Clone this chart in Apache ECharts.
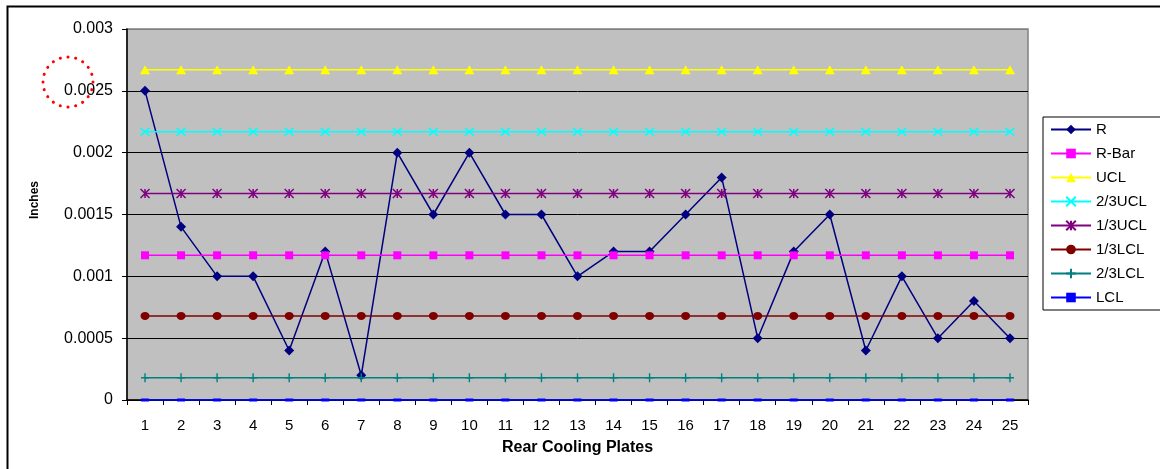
<!DOCTYPE html>
<html>
<head>
<meta charset="utf-8">
<script src="https://cdn.jsdelivr.net/npm/echarts@6/dist/echarts.min.js"></script>
<style>
html,body{margin:0;padding:0;background:#fff;}
#chart{width:1160px;height:469px;}
</style>
</head>
<body>
<div id="chart"></div>
<script>
const categories = ['1','2','3','4','5','6','7','8','9','10','11','12','13','14','15','16','17','18','19','20','21','22','23','24','25'];
const rValues   = [0.0025,0.0014,0.001,0.001,0.0004,0.0012,0.0002,0.002,0.0015,0.002,0.0015,0.0015,0.001,0.0012,0.0012,0.0015,0.0018,0.0005,0.0012,0.0015,0.0004,0.001,0.0005,0.0008,0.0005];
const rBar      = [0.00117,0.00117,0.00117,0.00117,0.00117,0.00117,0.00117,0.00117,0.00117,0.00117,0.00117,0.00117,0.00117,0.00117,0.00117,0.00117,0.00117,0.00117,0.00117,0.00117,0.00117,0.00117,0.00117,0.00117,0.00117];
const ucl       = [0.00267,0.00267,0.00267,0.00267,0.00267,0.00267,0.00267,0.00267,0.00267,0.00267,0.00267,0.00267,0.00267,0.00267,0.00267,0.00267,0.00267,0.00267,0.00267,0.00267,0.00267,0.00267,0.00267,0.00267,0.00267];
const ucl23     = [0.00217,0.00217,0.00217,0.00217,0.00217,0.00217,0.00217,0.00217,0.00217,0.00217,0.00217,0.00217,0.00217,0.00217,0.00217,0.00217,0.00217,0.00217,0.00217,0.00217,0.00217,0.00217,0.00217,0.00217,0.00217];
const ucl13     = [0.00167,0.00167,0.00167,0.00167,0.00167,0.00167,0.00167,0.00167,0.00167,0.00167,0.00167,0.00167,0.00167,0.00167,0.00167,0.00167,0.00167,0.00167,0.00167,0.00167,0.00167,0.00167,0.00167,0.00167,0.00167];
const lcl13     = [0.00068,0.00068,0.00068,0.00068,0.00068,0.00068,0.00068,0.00068,0.00068,0.00068,0.00068,0.00068,0.00068,0.00068,0.00068,0.00068,0.00068,0.00068,0.00068,0.00068,0.00068,0.00068,0.00068,0.00068,0.00068];
const lcl23     = [0.00018,0.00018,0.00018,0.00018,0.00018,0.00018,0.00018,0.00018,0.00018,0.00018,0.00018,0.00018,0.00018,0.00018,0.00018,0.00018,0.00018,0.00018,0.00018,0.00018,0.00018,0.00018,0.00018,0.00018,0.00018];
const lcl       = [0,0,0,0,0,0,0,0,0,0,0,0,0,0,0,0,0,0,0,0,0,0,0,0,0];
const seriesNames = ['R','R-Bar','UCL','2/3UCL','1/3UCL','1/3LCL','2/3LCL','LCL'];
const xTitle = 'Rear Cooling Plates';
const yTitle = 'Inches';

const FONT = '"Liberation Sans", Arial, sans-serif';
const chart = echarts.init(document.getElementById('chart'), null, {renderer: 'canvas'});

function mk(name, data, color, symbol, size, extra) {
  return Object.assign({
    name: name,
    type: 'line',
    data: data,
    symbol: symbol,
    symbolSize: size,
    showAllSymbol: true,
    clip: false,
    animation: false,
    lineStyle: {color: color, width: 1.5},
    itemStyle: {color: color, borderColor: color, borderWidth: 0},
    emphasis: {disabled: true}
  }, extra || {});
}
const strokeSym = (c) => ({itemStyle: {color: c, borderColor: c, borderWidth: 1.5}});

const option = {
  backgroundColor: '#ffffff',
  animation: false,
  textStyle: {fontFamily: FONT},
  grid: {
    left: 127, right: 132, top: 29, bottom: 69,
    containLabel: false, outerBoundsMode: 'none',
    show: true, backgroundColor: '#C0C0C0', borderColor: '#808080', borderWidth: 1.5
  },
  legend: {
    orient: 'vertical',
    left: 1043, top: 117,
    padding: [5, 14, 5, 7],
    itemWidth: 40, itemHeight: 12, itemGap: 9,
    borderColor: '#000', borderWidth: 1,
    backgroundColor: '#fff',
    textStyle: {fontFamily: FONT, fontSize: 15, color: '#000', lineHeight: 15},
    data: seriesNames
  },
  xAxis: {
    type: 'category',
    data: categories,
    boundaryGap: true,
    name: xTitle,
    nameLocation: 'middle',
    nameGap: 40,
    nameTextStyle: {fontFamily: FONT, fontSize: 16, fontWeight: 'bold', color: '#000'},
    axisLine: {lineStyle: {color: '#000', width: 1.5}},
    axisTick: {show: true, alignWithLabel: false, length: 5, lineStyle: {color: '#000'}},
    axisLabel: {fontFamily: FONT, fontSize: 15, color: '#000', margin: 18, interval: 0},
    splitLine: {show: false}
  },
  yAxis: {
    type: 'value',
    min: 0, max: 0.003, interval: 0.0005,
    axisLine: {show: true, lineStyle: {color: '#000', width: 1.5}},
    axisTick: {show: true, length: 5, lineStyle: {color: '#000'}},
    axisLabel: {fontFamily: FONT, fontSize: 16, color: '#000', margin: 14},
    splitLine: {show: true, lineStyle: {color: ['#000','#000','#000','#000','#000','#000','#808080'], width: 1}}
  },
  series: [
    mk('R', rValues, '#000080', 'diamond', [10,10]),
    mk('R-Bar', rBar, '#FF00FF', 'rect', [8,8]),
    mk('UCL', ucl, '#FFFF00', 'triangle', [10,9]),
    mk('2/3UCL', ucl23, '#00FFFF', 'path://M0,0L10,10M10,0L0,10', [9,8], strokeSym('#00FFFF')),
    mk('1/3UCL', ucl13, '#800080', 'path://M0,0L10,10M10,0L0,10M5,0L5,10', [9,9], strokeSym('#800080')),
    mk('1/3LCL', lcl13, '#800000', 'circle', [9,8]),
    mk('2/3LCL', lcl23, '#008080', 'path://M5,0L5,10M0,5L10,5', [8,9], strokeSym('#008080')),
    mk('LCL', lcl, '#0000FF', 'rect', [8,3])
  ],
  graphic: [
    {type: 'text', x: 35, y: 200, rotation: Math.PI / 2,
     style: {text: yTitle, font: 'bold 12px ' + FONT, fill: '#000', align: 'center', verticalAlign: 'middle'}, silent: true},
    {type: 'rect', left: 5, top: 4, shape: {x: 0, y: 0, width: 1170, height: 480},
     style: {fill: 'none', stroke: '#000', lineWidth: 2}, silent: true, z: 100},
    {type: 'circle', shape: {cx: 68, cy: 82, r: 25},
     style: {fill: 'none', stroke: '#FF0000', lineWidth: 3, lineDash: [0.1, 7.7], lineCap: 'round'}, silent: true, z: 100}
  ]
};
chart.setOption(option);
</script>
</body>
</html>
